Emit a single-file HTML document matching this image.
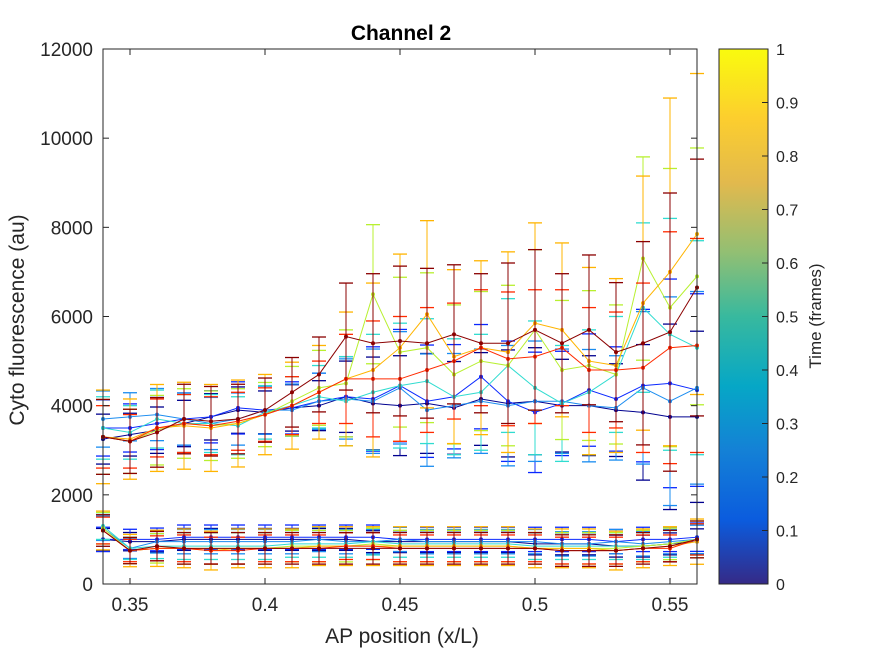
<!DOCTYPE html>
<html><head><meta charset="utf-8"><style>
html,body{margin:0;padding:0;background:#fff;}
svg{display:block;font-family:"Liberation Sans",sans-serif;}
</style></head><body>
<svg id="chart" width="875" height="656">
<defs>
<linearGradient id="parula" x1="0" y1="1" x2="0" y2="0">
<stop offset="0" stop-color="#352a87"/><stop offset="0.12" stop-color="#0b5cde"/>
<stop offset="0.25" stop-color="#1481d6"/><stop offset="0.37" stop-color="#06a7c6"/>
<stop offset="0.5" stop-color="#38b99e"/><stop offset="0.62" stop-color="#92bf73"/>
<stop offset="0.75" stop-color="#e2b94d"/><stop offset="0.87" stop-color="#fcce2e"/>
<stop offset="1" stop-color="#f9fb0e"/>
</linearGradient>
</defs>
<rect x="0" y="0" width="875" height="656" fill="#fff"/>
<text x="401" y="40" font-size="21" font-weight="bold" text-anchor="middle" fill="#000">Channel 2</text>
<g id="plot"></g>
<text x="402" y="643" font-size="21" text-anchor="middle" fill="#262626">AP position (x/L)</text>
<text transform="translate(24,320) rotate(-90)" font-size="21" text-anchor="middle" fill="#262626">Cyto fluorescence (au)</text>
<rect x="719" y="49" width="49" height="535" fill="url(#parula)" stroke="#262626" stroke-width="1"/>
<g id="cbticks"></g>
<text transform="translate(821,316) rotate(-90)" font-size="17" text-anchor="middle" fill="#262626">Time (frames)</text>
</svg>
<script>
const xs = [0.34,0.35,0.36,0.37,0.38,0.39,0.40,0.41,0.42,0.43,0.44,0.45,0.46,0.47,0.48,0.49,0.50,0.51,0.52,0.53,0.54,0.55,0.56];
const xTicks = [0.35,0.4,0.45,0.5,0.55];
const yTicks = [0,2000,4000,6000,8000,10000,12000];
const cbTicks = [0,0.1,0.2,0.3,0.4,0.5,0.6,0.7,0.8,0.9,1];
const colors = ["#00008f","#0a28ff","#1a8cf0","#30dcd0","#b8f030","#ffb400","#ff2a00","#8b0000"];
const up0 = [3250,3350,3450,3600,3750,3900,3850,3950,4000,4200,4050,4000,4050,3950,4150,4050,4100,4000,4000,3900,3850,3750,3750];
const up1 = [3500,3500,3600,3700,3750,3950,3900,3950,4100,4200,4150,4450,4100,4200,4650,4100,3850,4050,4350,4150,4450,4500,4350];
const up2 = [3700,3750,3800,3700,3600,3700,3900,3900,4100,4150,4100,4400,3900,4000,4100,4000,4100,4100,4000,3950,4400,4100,4400];
const up3 = [3500,3400,3700,3600,3600,3550,3850,4000,4200,4100,4300,4450,4550,4200,4300,4900,4400,4050,4300,4700,6200,5600,5300];
const up4 = [3300,3200,3450,3600,3550,3600,3800,4100,4400,4500,6500,5200,5300,4700,5000,4900,5700,4800,4900,4700,7300,6200,6900];
const up5 = [3300,3250,3500,3550,3500,3600,3800,4000,4300,4600,4800,5300,6050,5100,5300,5200,5850,5700,5000,4900,6300,7000,7850];
const up6 = [3300,3200,3500,3600,3550,3650,3800,4000,4300,4600,4600,4600,4800,5000,5300,5050,5100,5300,4800,4800,4850,5300,5350];
const up7 = [3300,3200,3400,3700,3650,3700,3900,4300,4700,5550,5400,5450,5400,5600,5400,5400,5700,5400,5700,5200,5400,5650,6650];
const lo0 = [1000,950,950,1000,1000,1000,1000,1000,1000,1000,950,950,950,950,950,950,900,900,900,850,850,900,950];
const lo1 = [1000,1000,1000,1050,1050,1050,1050,1050,1050,1050,1050,1000,1000,1000,1000,1000,1000,1000,1000,950,1000,1000,1050];
const lo2 = [1250,800,950,950,950,950,950,950,1000,950,950,1000,950,950,950,950,950,900,900,950,900,950,1000];
const lo3 = [1300,800,850,850,850,850,850,900,900,900,950,900,900,900,900,900,850,850,850,850,850,900,1000];
const lo4 = [1250,750,800,800,800,800,800,850,850,850,900,850,850,850,850,850,800,800,800,800,850,900,1000];
const lo5 = [1200,750,800,800,750,800,800,800,850,850,850,850,850,850,850,850,800,800,800,750,800,850,950];
const lo6 = [1200,750,800,800,750,750,800,800,800,850,850,800,800,800,800,800,800,750,750,750,800,800,1000];
const lo7 = [1200,750,850,800,800,800,800,800,800,800,800,800,800,800,800,800,800,750,750,750,800,850,1000];
const errUp = [700,600,650,650,650,650,600,650,700,1000,1300,1400,1400,1300,1300,1500,1500,1300,1400,1300,1900,2600,2400];
const errLo = [300,250,280,300,300,300,300,300,300,300,300,300,300,300,300,300,300,300,300,300,300,300,350];
const errScale = [0.8,0.9,0.9,1.0,1.2,1.5,1.0,1.2];

const L=103,R=697,T=49,B=584;
const xMin=0.34,xMax=0.56,yMin=0,yMax=12000;
const X=v=>L+(v-xMin)/(xMax-xMin)*(R-L);
const Y=v=>B-(v-yMin)/(yMax-yMin)*(B-T);
const NS="http://www.w3.org/2000/svg";
const plot=document.getElementById('plot');
function mk(tag,attrs,parent){const e=document.createElementNS(NS,tag);for(const k in attrs)e.setAttribute(k,attrs[k]);(parent||plot).appendChild(e);return e;}

const axBg=mk('rect',{x:L,y:T,width:R-L,height:B-T,fill:'#fff'});



const ups=[up0,up1,up2,up3,up4,up5,up6,up7];
const los=[lo0,lo1,lo2,lo3,lo4,lo5,lo6,lo7];
function drawSeries(vals,errs,scale,col,name){
  const g=mk('g',{});
  
  
  vals.forEach((v,i)=>{
    const e=errs[i]*scale,x=X(xs[i]);
    const y1=Math.max(T,Y(v+e)),y2=Math.min(B,Y(v-e));
    mk('line',{x1:x,x2:x,y1:y1,y2:y2,stroke:col,'stroke-width':1},g);
    if(Y(v+e)>=T) mk('line',{x1:x-7,x2:x+7,y1:Y(v+e),y2:Y(v+e),stroke:col,'stroke-width':1.3},g);
    if(Y(v-e)<=B) mk('line',{x1:x-7,x2:x+7,y1:Y(v-e),y2:Y(v-e),stroke:col,'stroke-width':1.3},g);
  });
  const pl=mk('polyline',{points:vals.map((v,i)=>X(xs[i])+','+Y(v)).join(' '),fill:'none',stroke:col,'stroke-width':1},g);
  
  
  vals.forEach((v,i)=>{mk('circle',{cx:X(xs[i]),cy:Y(v),r:2,fill:col},g);});
}
for(let s=0;s<8;s++){drawSeries(los[s],errLo,errScale[s]*0.9+0.1,colors[s],'lower-series-'+s);}
for(let s=0;s<8;s++){drawSeries(ups[s],errUp,errScale[s],colors[s],'upper-series-'+s);}

const box=mk('rect',{x:L,y:T,width:R-L,height:B-T,fill:'none',stroke:'#262626','stroke-width':1});


xTicks.forEach(t=>{
  mk('line',{x1:X(t),x2:X(t),y1:B,y2:B-6,stroke:'#262626'});
  mk('line',{x1:X(t),x2:X(t),y1:T,y2:T+6,stroke:'#262626'});
  const tx=mk('text',{x:X(t),y:B+27,'font-size':19,'text-anchor':'middle',fill:'#262626'});
  tx.textContent=String(t);
  
  
});
yTicks.forEach(t=>{
  mk('line',{x1:L,x2:L+6,y1:Y(t),y2:Y(t),stroke:'#262626'});
  mk('line',{x1:R,x2:R-6,y1:Y(t),y2:Y(t),stroke:'#262626'});
  const tx=mk('text',{x:L-10,y:Y(t)+7,'font-size':19,'text-anchor':'end',fill:'#262626'});
  tx.textContent=String(t);
  
  
});
const cb=document.getElementById('cbticks');
cbTicks.forEach(t=>{
  const y=584-t*535;
  mk('line',{x1:762,x2:768,y1:y,y2:y,stroke:'#262626'},cb);
  const tx=mk('text',{x:776,y:y+6,'font-size':16,fill:'#262626'},cb);
  tx.textContent=String(t);
  
  
});
</script>
</body></html>
